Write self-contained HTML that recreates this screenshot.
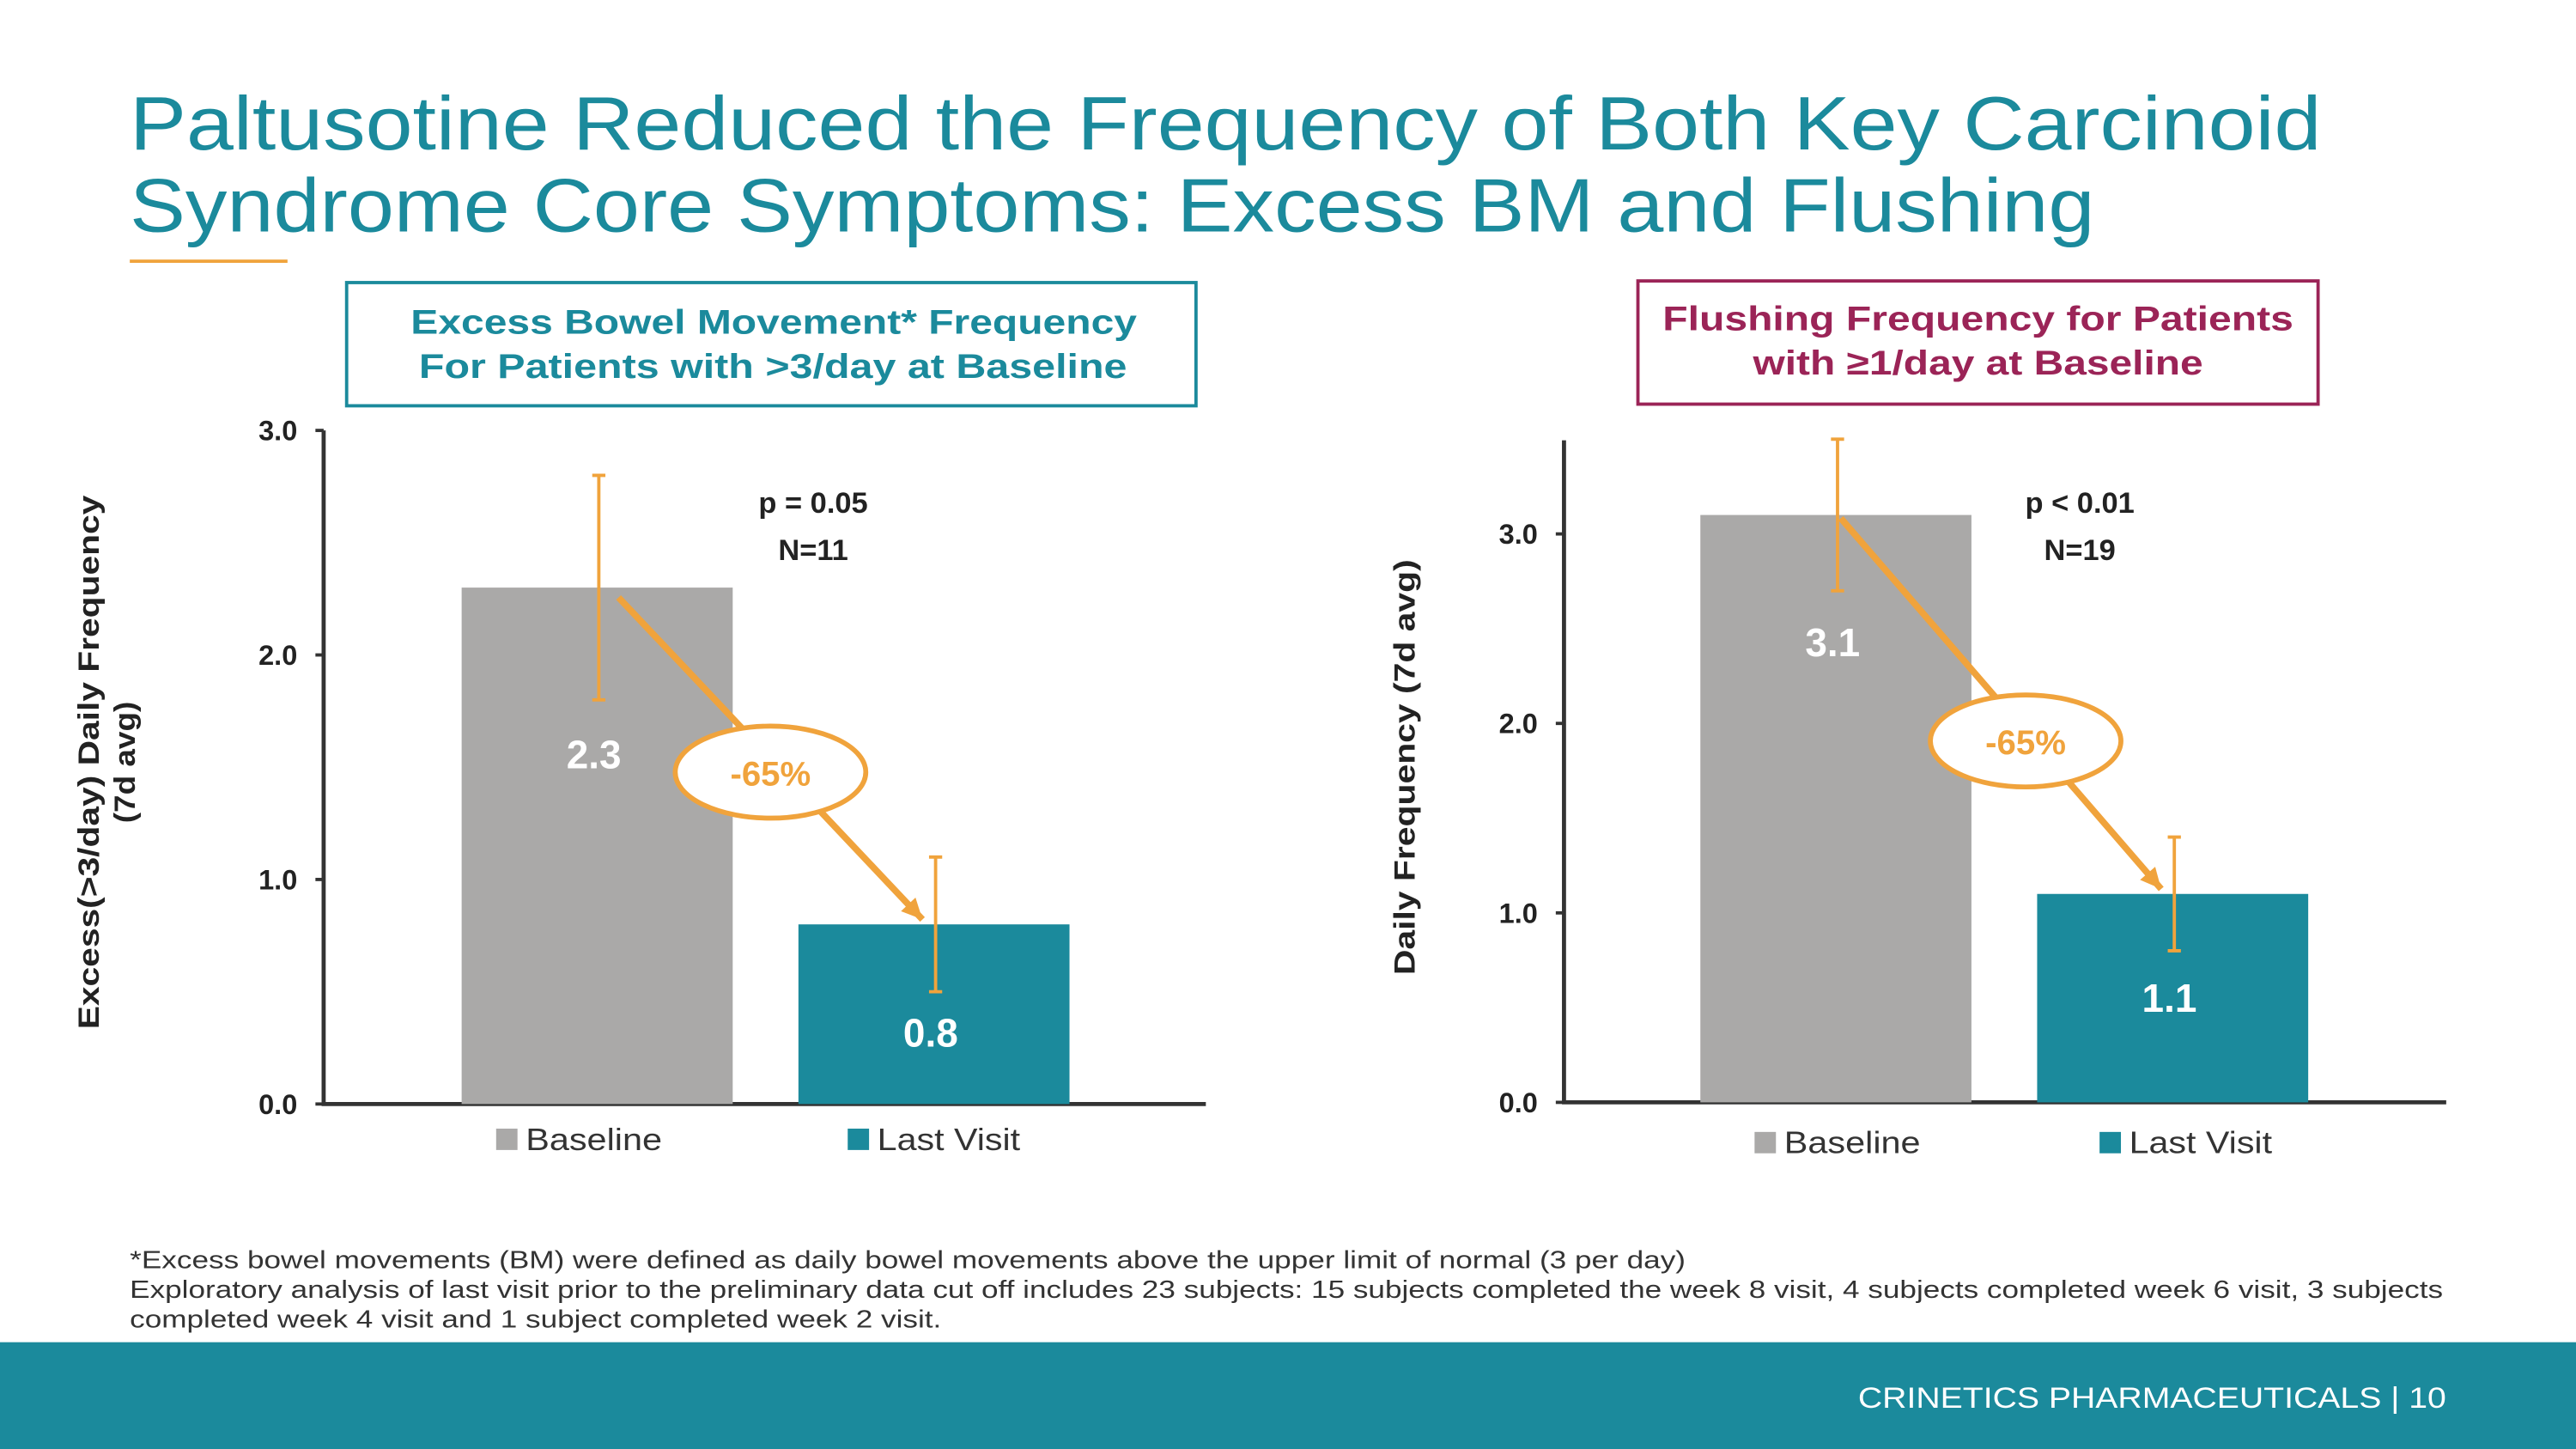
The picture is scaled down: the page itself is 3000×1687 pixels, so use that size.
<!DOCTYPE html>
<html><head><meta charset="utf-8"><style>
html,body{margin:0;padding:0;background:#fff;}
svg{display:block;font-family:"Liberation Sans",sans-serif;}
</style></head><body>
<svg id="s" width="3000" height="1687" viewBox="0 0 1568 882" preserveAspectRatio="none" xmlns="http://www.w3.org/2000/svg">
<text x="79" y="91" font-size="46" fill="#1b8a9c" textLength="1334" lengthAdjust="spacingAndGlyphs">Paltusotine Reduced the Frequency of Both Key Carcinoid</text>
<text x="79" y="141" font-size="46" fill="#1b8a9c" textLength="1196" lengthAdjust="spacingAndGlyphs">Syndrome Core Symptoms: Excess BM and Flushing</text>
<rect x="79" y="158" width="96" height="2" fill="#f0a33c"/>
<rect x="211" y="172" width="517" height="75" fill="none" stroke="#1b8a9c" stroke-width="2"/>
<text x="250" y="203" font-size="21" font-weight="bold" fill="#1b8a9c" textLength="442" lengthAdjust="spacingAndGlyphs">Excess Bowel Movement* Frequency</text>
<text x="255" y="230" font-size="21" font-weight="bold" fill="#1b8a9c" textLength="431" lengthAdjust="spacingAndGlyphs">For Patients with &gt;3/day at Baseline</text>
<rect x="997" y="171" width="414" height="75" fill="none" stroke="#9b2457" stroke-width="2"/>
<text x="1012" y="201" font-size="21" font-weight="bold" fill="#9b2457" textLength="384" lengthAdjust="spacingAndGlyphs">Flushing Frequency for Patients</text>
<text x="1067" y="228" font-size="21" font-weight="bold" fill="#9b2457" textLength="274" lengthAdjust="spacingAndGlyphs">with ≥1/day at Baseline</text>
<g id="c1"></g><g id="c2"></g>
<text x="79" y="772" font-size="15" fill="#333" textLength="947" lengthAdjust="spacingAndGlyphs">*Excess bowel movements (BM) were defined as daily bowel movements above the upper limit of normal (3 per day)</text>
<text x="79" y="790" font-size="15" fill="#333" textLength="1408" lengthAdjust="spacingAndGlyphs">Exploratory analysis of last visit prior to the preliminary data cut off includes 23 subjects: 15 subjects completed the week 8 visit, 4 subjects completed week 6 visit, 3  subjects</text>
<text x="79" y="808" font-size="15" fill="#333" textLength="494" lengthAdjust="spacingAndGlyphs">completed week 4 visit and 1 subject completed week 2 visit.</text>
<rect x="0" y="817" width="1568" height="65" fill="#1b8a9c"/>
<text x="1131" y="857" font-size="18" fill="#fff" textLength="358" lengthAdjust="spacingAndGlyphs">CRINETICS PHARMACEUTICALS  |  10</text>
</svg>
<script>
const categories=["Baseline","Last Visit"];
const leftValues=[2.3,0.8];
const leftErrLow=[1.8,0.5];
const leftErrHigh=[2.8,1.1];
const rightValues=[3.1,1.1];
const rightErrLow=[2.7,0.8];
const rightErrHigh=[3.5,1.4];
const leftTicks=[0,1,2,3];
const rightTicks=[0,1,2,3];
const leftPct="-65%", rightPct="-65%";
const NS="http://www.w3.org/2000/svg";
function mk(p,t,a){const e=document.createElementNS(NS,t);for(const k in a)e.setAttribute(k,a[k]);p.appendChild(e);return e;}
function chart(g,o,vals,lo,hi,ticks,pct,pText,nText,yl,ylw){
  const y=v=>o.y0-(v/o.max)*(o.y0-o.yTop);
  const ax=mk(g,'path',{d:`M${o.x0},${o.axTop}V${o.y0}H${o.xEnd}`,stroke:'#333','stroke-width':2.5,fill:'none'});
  
  ticks.forEach(t=>{const l=mk(g,'line',{x1:o.x0-5,x2:o.x0,y1:y(t),y2:y(t),stroke:'#333','stroke-width':2});
    
    const tx=mk(g,'text',{x:o.x0-16,y:y(t)+6,'font-size':17,'font-weight':'bold','text-anchor':'end',fill:'#222'});tx.textContent=t.toFixed(1);
    });
  const cols=['#aaa9a8','#1b8a9c'];const tops=[];
  vals.forEach((v,i)=>{const bx=o.bx[i];
    const r=mk(g,'rect',{x:bx,y:y(v),width:o.bw,height:o.y0-y(v),fill:cols[i]});
    
    const lb=mk(g,'text',{x:bx+o.bw/2-2,y:i==0?y(v)+o.lab0:o.y0-o.lab1,'font-size':24,'font-weight':'bold',fill:'#fff','text-anchor':'middle'});lb.textContent=v.toFixed(1);
    
    const cx=bx+o.bw/2+o.eoff[i];
    const eb=mk(g,'path',{d:`M${cx},${y(lo[i])}V${y(hi[i])}M${cx-4},${y(lo[i])}h8M${cx-4},${y(hi[i])}h8`,stroke:'#f0a33c','stroke-width':2,fill:'none'});
    
    tops.push([cx,y(v)]);
    const ls=mk(g,'rect',{x:o.legX[i],y:o.legY-13,width:13,height:13,fill:cols[i]});
    
    const lt=mk(g,'text',{x:o.legX[i]+18,y:o.legY,'font-size':19,fill:'#333',textLength:o.legW[i],lengthAdjust:'spacingAndGlyphs'});lt.textContent=categories[i];
    });
  const [x1,y1]=[tops[0][0]+o.aoff,tops[0][1]+o.ay],[x2,y2]=[tops[1][0]-8,tops[1][1]-3];
  const ar=mk(g,'line',{x1,y1,x2,y2,stroke:'#f0a33c','stroke-width':4});
  
  const ang=Math.atan2(y2-y1,x2-x1),L=14;
  const hd=mk(g,'polygon',{points:`${x2},${y2} ${x2-L*Math.cos(ang-0.45)},${y2-L*Math.sin(ang-0.45)} ${x2-L*Math.cos(ang+0.45)},${y2-L*Math.sin(ang+0.45)}`,fill:'#f0a33c'});
  
  const el=mk(g,'ellipse',{cx:o.ex,cy:o.ey,rx:58,ry:28,fill:'#fff',stroke:'#f0a33c','stroke-width':3});
  
  const et=mk(g,'text',{x:o.ex,y:o.ey+8,'font-size':21,'font-weight':'bold',fill:'#f0a33c','text-anchor':'middle'});et.textContent=pct;
  
  const p=mk(g,'text',{x:o.px,y:312,'font-size':18,'font-weight':'bold',fill:'#222','text-anchor':'middle'});p.textContent=pText;
  
  const n=mk(g,'text',{x:o.px,y:341,'font-size':18,'font-weight':'bold',fill:'#222','text-anchor':'middle'});n.textContent=nText;
  
  yl.forEach((s,i)=>{
    const t=mk(g,'text',{transform:`translate(${o.ylx+i*22},${o.yly}) rotate(-90)`,'font-size':18,'font-weight':'bold',fill:'#222','text-anchor':'middle',x:0,y:0,textLength:ylw[i],lengthAdjust:'spacingAndGlyphs'});
    t.textContent=s;
    
    
  });
}
chart(document.getElementById('c1'),{x0:197,y0:672,yTop:262,max:3,axTop:262,xEnd:734,bx:[281,486],bw:165,eoff:[1,1],lab0:110,lab1:35,legX:[302,516],legY:700,legW:[83,87],ex:469,ey:470,aoff:12,ay:6,px:495,ylx:60,yly:464},
 leftValues,leftErrLow,leftErrHigh,leftTicks,leftPct,"p = 0.05","N=11",["Excess(>3/day) Daily Frequency","(7d avg)"],[325,74]);
chart(document.getElementById('c2'),{x0:952,y0:671,yTop:325,max:3,axTop:268,xEnd:1489,bx:[1035,1240],bw:165,eoff:[1,1],lab0:86,lab1:55,legX:[1068,1278],legY:702,legW:[83,87],ex:1233,ey:451,aoff:2,ay:2,px:1266,ylx:861,yly:467},
 rightValues,rightErrLow,rightErrHigh,rightTicks,rightPct,"p < 0.01","N=19",["Daily Frequency (7d avg)"],[253]);
</script>
</body></html>
